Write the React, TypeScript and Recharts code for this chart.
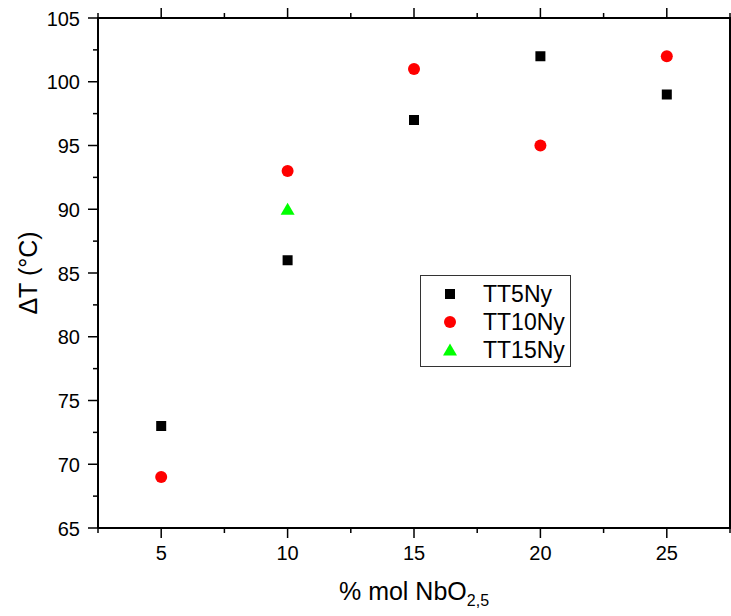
import React from 'react';
import { ScatterChart, Scatter, XAxis, YAxis, ReferenceLine } from 'recharts';

const xValues = [5, 10, 15, 20, 25];
const tt5Values = [73, 86, 97, 102, 99];
const tt10Values = [69, 93, 101, 95, 102];
const tt15X = [10];
const tt15Values = [90];

const xDomain = [2.5, 27.5];
const yDomain = [65, 105];
const xTicks = [2.5, 5, 7.5, 10, 12.5, 15, 17.5, 20, 22.5, 25, 27.5];
const yTicks = [65, 67.5, 70, 72.5, 75, 77.5, 80, 82.5, 85, 87.5, 90, 92.5, 95, 97.5, 100, 102.5, 105];

const tt5Data = xValues.map((x, i) => ({ x, y: tt5Values[i] }));
const tt10Data = xValues.map((x, i) => ({ x, y: tt10Values[i] }));
const tt15Data = tt15X.map((x, i) => ({ x, y: tt15Values[i] }));

const FONT = '"Liberation Sans", Arial, sans-serif';

const isMajor = (v: number) => Math.abs(v % 5) < 1e-9;

const BottomTick = (props: any) => {
  const { x, y, payload } = props;
  const major = isMajor(payload.value);
  const len = major ? 10 : 5;
  return (
    <g>
      <line x1={x} y1={y} x2={x} y2={y + len} stroke="#000" strokeWidth={1.5} />
      {major && (
        <text x={x} y={y + 32} textAnchor="middle" fontSize={20} fontFamily={FONT} fill="#000">
          {payload.value}
        </text>
      )}
    </g>
  );
};

const LeftTick = (props: any) => {
  const { x, y, payload } = props;
  const major = isMajor(payload.value);
  const len = major ? 10 : 5;
  return (
    <g>
      <line x1={x} y1={y} x2={x - len} y2={y} stroke="#000" strokeWidth={1.5} />
      {major && (
        <text x={x - 18} y={y + 7.5} textAnchor="end" fontSize={20} fontFamily={FONT} fill="#000">
          {payload.value}
        </text>
      )}
    </g>
  );
};

// Top frame line with outward ticks (mirrors the bottom axis ticks)
const TopFrame = (props: any) => {
  const { x1, y1, x2 } = props;
  const left = Math.min(x1, x2);
  const right = Math.max(x1, x2);
  return (
    <g>
      <line x1={left - 1} y1={y1} x2={right} y2={y1} stroke="#000" strokeWidth={2} />
      {xTicks.map((t) => {
        const px = left + ((t - xDomain[0]) / (xDomain[1] - xDomain[0])) * (right - left);
        const len = isMajor(t) ? 10 : 5;
        return <line key={t} x1={px} y1={y1} x2={px} y2={y1 - len} stroke="#000" strokeWidth={1.5} />;
      })}
    </g>
  );
};

// Right frame line with outward ticks (mirrors the left axis ticks)
const RightFrame = (props: any) => {
  const { x1, y1, y2 } = props;
  const top = Math.min(y1, y2);
  const bottom = Math.max(y1, y2);
  return (
    <g>
      <line x1={x1} y1={top - 1} x2={x1} y2={bottom + 1} stroke="#000" strokeWidth={2} />
      {yTicks.map((t) => {
        const py = bottom - ((t - yDomain[0]) / (yDomain[1] - yDomain[0])) * (bottom - top);
        const len = isMajor(t) ? 10 : 5;
        return <line key={t} x1={x1} y1={py} x2={x1 + len} y2={py} stroke="#000" strokeWidth={1.5} />;
      })}
    </g>
  );
};

const SquareShape = (props: any) => {
  const { cx, cy } = props;
  return <rect x={cx - 5} y={cy - 5} width={10} height={10} fill="#000" />;
};
const CircleShape = (props: any) => {
  const { cx, cy } = props;
  return <circle cx={cx} cy={cy} r={6} fill="#ff0000" />;
};
const TriangleShape = (props: any) => {
  const { cx, cy } = props;
  return <polygon points={`${cx},${cy - 6.5} ${cx + 7},${cy + 5.5} ${cx - 7},${cy + 5.5}`} fill="#00ff00" />;
};

const legendItems = [
  { name: 'TT5Ny', kind: 'square' },
  { name: 'TT10Ny', kind: 'circle' },
  { name: 'TT15Ny', kind: 'triangle' },
];

const LegendIcon = ({ kind }: { kind: string }) => (
  <svg width={16} height={16} style={{ display: 'block' }}>
    {kind === 'square' && <rect x={3} y={3} width={10} height={10} fill="#000" />}
    {kind === 'circle' && <circle cx={8} cy={8} r={6} fill="#ff0000" />}
    {kind === 'triangle' && <polygon points="8,1.5 15,13.5 1,13.5" fill="#00ff00" />}
  </svg>
);

const LegendBox = () => (
  <div
    style={{
      position: 'absolute',
      left: 420,
      top: 275,
      width: 149,
      height: 90,
      border: '1px solid #333',
      background: '#fff',
      fontFamily: FONT,
      fontSize: 23,
      color: '#000',
    }}
  >
    {legendItems.map((it, i) => (
      <div
        key={it.name}
        style={{ position: 'absolute', left: 0, top: 4 + i * 28, height: 28, display: 'flex', alignItems: 'center' }}
      >
        <div style={{ width: 16, marginLeft: 21 }}>
          <LegendIcon kind={it.kind} />
        </div>
        <span style={{ marginLeft: 25, lineHeight: '28px' }}>{it.name}</span>
      </div>
    ))}
  </div>
);

export default function App() {
  return (
    <div style={{ position: 'absolute', left: 0, top: 0, width: 731, height: 616, overflow: 'hidden', background: '#fff' }}>
      <ScatterChart width={731} height={616} margin={{ top: 18, right: 1, bottom: 0, left: 0 }}>
        <XAxis
          xAxisId="bottom"
          dataKey="x"
          type="number"
          domain={xDomain}
          ticks={xTicks}
          interval={0}
          height={88}
          tickSize={0}
          tickMargin={0}
          tickLine={false}
          tick={<BottomTick />}
          axisLine={{ stroke: '#000', strokeWidth: 2 }}
          allowDataOverflow
          label={{
            content: (p: any) => {
              const vb = p.viewBox;
              return (
                <text
                  x={vb.x + vb.width / 2}
                  y={vb.y + 72}
                  textAnchor="middle"
                  fontSize={25}
                  fontFamily={FONT}
                  fill="#000"
                >
                  % mol NbO
                  <tspan fontSize={16} dy={6}>2,5</tspan>
                </text>
              );
            },
          }}
        />
        <YAxis
          yAxisId="left"
          dataKey="y"
          type="number"
          domain={yDomain}
          ticks={yTicks}
          interval={0}
          width={98}
          tickSize={0}
          tickMargin={0}
          tickLine={false}
          tick={<LeftTick />}
          axisLine={{ stroke: '#000', strokeWidth: 2 }}
          allowDataOverflow
          label={{
            content: (p: any) => {
              const vb = p.viewBox;
              const cx = vb.x + 28;
              const cy = vb.y + vb.height / 2;
              return (
                <text
                  x={cx}
                  y={cy}
                  transform={`rotate(-90 ${cx} ${cy})`}
                  textAnchor="middle"
                  dominantBaseline="central"
                  fontSize={25}
                  fontFamily={FONT}
                  fill="#000"
                >
                  ΔT (°C)
                </text>
              );
            },
          }}
        />
        <ReferenceLine xAxisId="bottom" yAxisId="left" y={yDomain[1]} shape={TopFrame} ifOverflow="visible" />
        <ReferenceLine xAxisId="bottom" yAxisId="left" x={xDomain[1]} shape={RightFrame} ifOverflow="visible" />
        <Scatter name="TT5Ny" data={tt5Data} xAxisId="bottom" yAxisId="left" shape={<SquareShape />} isAnimationActive={false} />
        <Scatter name="TT10Ny" data={tt10Data} xAxisId="bottom" yAxisId="left" shape={<CircleShape />} isAnimationActive={false} />
        <Scatter name="TT15Ny" data={tt15Data} xAxisId="bottom" yAxisId="left" shape={<TriangleShape />} isAnimationActive={false} />
      </ScatterChart>
      <LegendBox />
    </div>
  );
}
